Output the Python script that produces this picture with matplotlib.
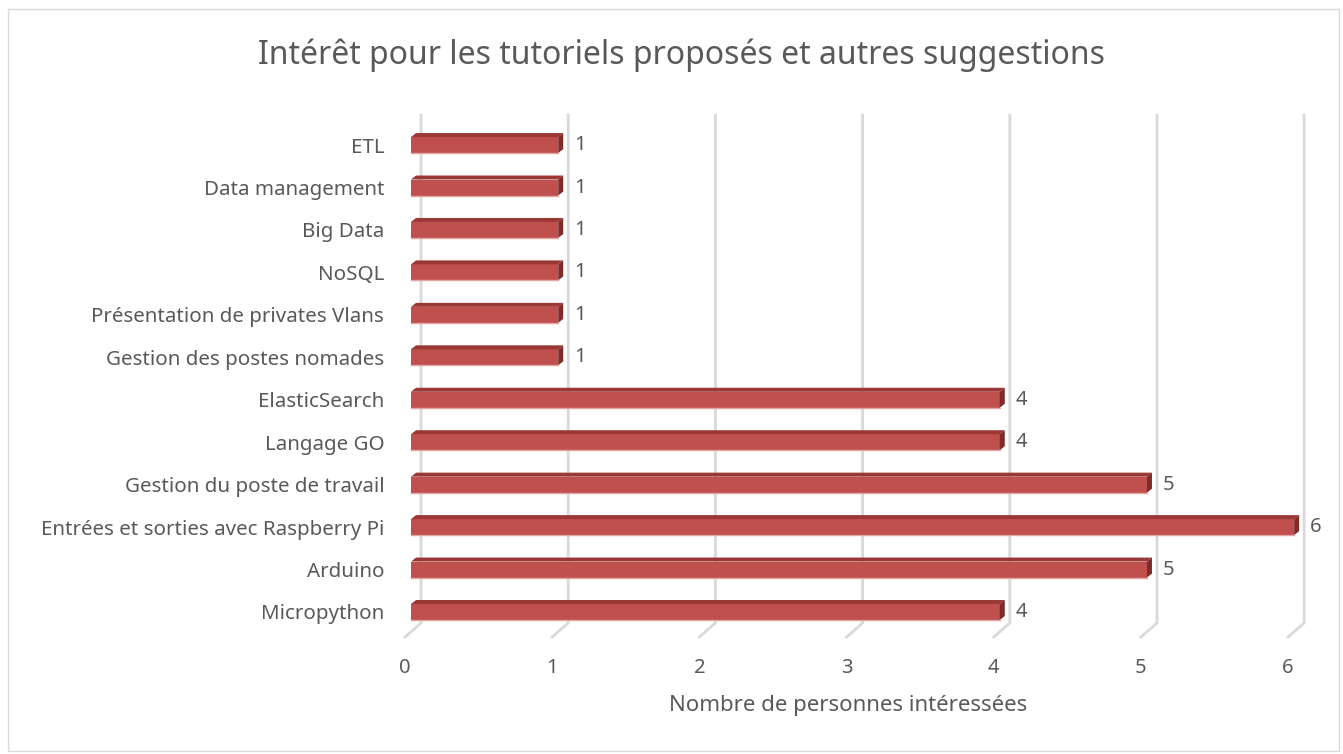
import matplotlib
matplotlib.use("Agg")
import matplotlib.pyplot as plt
from matplotlib.patches import Polygon, Rectangle
import numpy as np

plt.rcParams['font.family'] = ['Noto Sans', 'DejaVu Sans']

# data (bottom to top)
categories = ["Micropython", "Arduino", "Entrées et sorties avec Raspberry Pi",
              "Gestion du poste de travail", "Langage GO", "ElasticSearch",
              "Gestion des postes nomades", "Présentation de privates Vlans",
              "NoSQL", "Big Data", "Data management", "ETL"]
values = [4, 5, 6, 5, 4, 4, 1, 1, 1, 1, 1, 1]
xticks = [0, 1, 2, 3, 4, 5, 6]

title = "Intérêt pour les tutoriels proposés et autres suggestions"
xlabel = "Nombre de personnes intéressées"

front_col = "#C0504D"
top_col = "#9A3835"
side_col = "#7E2B29"
grid_col = "#D9D9D9"
text_col = "#595959"

W, H = 1343, 754
fig = plt.figure(figsize=(W / 100, H / 100), dpi=100)
fig.patches.append(Rectangle((8 / W, 3 / H), (W - 12) / W, (H - 12) / H,
                             transform=fig.transFigure, fill=False,
                             edgecolor="#D9D9D9", lw=1))

ax = fig.add_axes([405 / W, (H - 637) / H, (1323 - 405) / W, (637 - 115) / H])
x0, x1 = -0.041, 6.196
y0, y1 = -0.589, 11.708
ax.set_xlim(x0, x1)
ax.set_ylim(y0, y1)
for s in ax.spines.values():
    s.set_visible(False)

# 3d offsets (in data units)
back_dx, back_dy = 0.068, -0.259
depth_dx, depth_dy = 0.034, 0.094
bar_h = 0.377

# back wall gridlines + floor diagonals
for v in xticks:
    ax.plot([v + back_dx, v + back_dx, v + x0], [y1, back_dy, y0],
            color=grid_col, lw=2, clip_on=False, zorder=1, solid_joinstyle="miter")

pos = np.arange(len(categories))
ax.barh(pos, values, height=bar_h, color=front_col, zorder=3)
for y, v in zip(pos, values):
    top = [(0, y + bar_h / 2), (v, y + bar_h / 2),
           (v + depth_dx, y + bar_h / 2 + depth_dy), (depth_dx, y + bar_h / 2 + depth_dy)]
    side = [(v, y - bar_h / 2), (v, y + bar_h / 2),
            (v + depth_dx, y + bar_h / 2 + depth_dy), (v + depth_dx, y - bar_h / 2 + depth_dy)]
    ax.add_patch(Polygon(top, closed=True, color=top_col, zorder=3, lw=0))
    ax.add_patch(Polygon(side, closed=True, color=side_col, zorder=3, lw=0))
    ax.plot([0, v], [y - bar_h / 2, y - bar_h / 2], color="#E3A5A3", lw=1, zorder=4)
    ax.text(v + 0.105, y, str(v), va="center", ha="left", fontsize=14.5, color=text_col, zorder=4)

ax.set_yticks(pos)
ax.set_yticklabels(categories, fontsize=14.8, color=text_col)
ax.set_xticks([t + x0 for t in xticks])
ax.set_xticklabels([str(t) for t in xticks], fontsize=14.5, color=text_col)
ax.tick_params(axis="y", length=0, pad=15)
ax.tick_params(axis="x", length=0, pad=15)

ax.set_xlabel(xlabel, fontsize=16, color=text_col)
ax.xaxis.set_label_coords((848 - 405) / (1323 - 405), -(706 - 637) / (637 - 115), transform=ax.transAxes)
ax.xaxis.label.set_va("center")
fig.text(681 / W, 1 - 55 / H, title, ha="center", va="center", fontsize=23, color=text_col)

fig.savefig("out.png", dpi=100)
